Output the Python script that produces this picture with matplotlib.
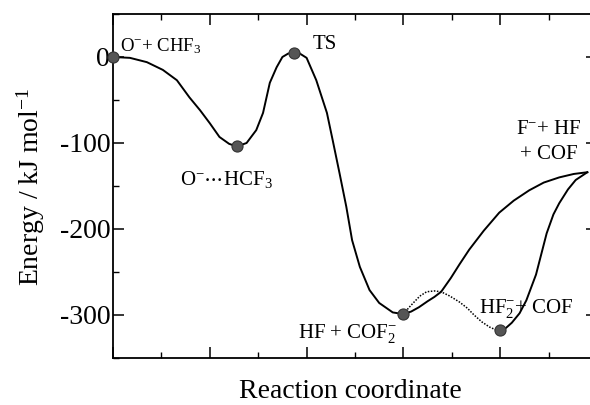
import matplotlib
matplotlib.use("Agg")
import matplotlib.pyplot as plt
from matplotlib.ticker import MultipleLocator

plt.rcParams['font.family'] = ['Liberation Serif', 'DejaVu Serif']
plt.rcParams['mathtext.default'] = 'regular'
plt.rcParams['axes.unicode_minus'] = False

# Stationary points (reaction coordinate, energy kJ/mol)
point_x = [0.0, 1.28, 1.87, 3.0, 4.0]
point_y = [0.0, -104.0, 5.0, -299.0, -318.0]

# Main solid path: reactants -> complex -> TS -> HF + COF2- -> F- + HF + COF
main_x = [0.0, 0.175, 0.35, 0.515, 0.66, 0.79, 0.90, 1.0, 1.10, 1.20, 1.28,
          1.38, 1.48, 1.55, 1.62, 1.69, 1.75, 1.81, 1.87, 1.93, 2.0, 2.10,
          2.21, 2.27, 2.34, 2.41, 2.47, 2.55, 2.65, 2.75, 2.89, 3.0,
          3.08, 3.16, 3.25, 3.32, 3.39, 3.49, 3.58, 3.68, 3.83, 3.99, 4.14,
          4.30, 4.45, 4.61, 4.76, 4.90]
main_y = [0.0, -1, -6, -15, -27, -47, -62, -77, -93, -101, -104,
          -100, -85, -65, -30, -12, 0, 4, 5, 4, -1, -27,
          -65, -97, -135, -174, -213, -244, -271, -286, -297, -299,
          -296, -291, -284, -279, -273, -257, -241, -224, -202, -181, -167,
          -155, -146, -140, -136, -134]

# Second solid path: HF2- + COF -> F- + HF + COF
second_x = [4.0, 4.06, 4.12, 4.20, 4.27, 4.37, 4.48, 4.55, 4.61, 4.70, 4.78, 4.90]
second_y = [-318, -315, -309, -298, -283, -253, -205, -183, -170, -154, -143, -134]

# Dotted path: HF + COF2- -> HF2- + COF
dotted_x = [3.0, 3.06, 3.11, 3.17, 3.24, 3.32, 3.39, 3.48, 3.58, 3.66, 3.73, 3.81, 3.89, 3.95, 4.0]
dotted_y = [-299, -291, -285, -278, -273, -272, -273, -278, -285, -292, -300, -308, -314, -317, -318]

labels = [r"O$^{-}$+ CHF$_{3}$", r"O$^{-}$$\cdots$HCF$_{3}$", "TS", "F$^{-}$+ HF",
          "+ COF", r"HF + COF$_{2}^{-}$", r"HF$_{2}^{-}$+ COF"]

fig = plt.figure(figsize=(5.9, 4.05), dpi=100)
ax = fig.add_axes([113/590, 1-358/405, 484/590, 344/405])

ax.plot(main_x, main_y, color='black', lw=1.4, zorder=2)
ax.plot(second_x, second_y, color='black', lw=1.4, zorder=2)
ax.plot(dotted_x, dotted_y, color='black', lw=1.1, ls=(0, (1, 1)), zorder=2)
ax.plot(point_x, point_y, 'o', ms=8, color='#555555', mec='#333333', mew=0.8,
        zorder=3, clip_on=False)

fs = 15
ax.text(0.07, 13, labels[0], fontsize=13.5, ha='left', va='center')
ax.text(1.175, -143, labels[1], fontsize=fs, ha='center', va='center')
ax.text(2.06, 14, labels[2], fontsize=fs, ha='left', va='center')
ax.text(4.835, -84, labels[3], fontsize=fs, ha='right', va='center')
ax.text(4.80, -113, labels[4], fontsize=fs, ha='right', va='center')
ax.text(1.907, -321, labels[5], fontsize=fs, ha='left', va='center')
ax.text(3.78, -292, labels[6], fontsize=fs, ha='left', va='center')

ax.set_xlim(0, 5)
ax.set_ylim(-350, 50)
ax.xaxis.set_major_locator(MultipleLocator(1))
ax.xaxis.set_minor_locator(MultipleLocator(0.5))
ax.yaxis.set_major_locator(MultipleLocator(100))
ax.yaxis.set_minor_locator(MultipleLocator(50))
ax.set_yticks([0, -100, -200, -300])
ax.set_yticklabels(['0', '-100', '-200', '-300'])
ax.tick_params(axis='both', which='both', direction='in', top=True, right=True)
ax.tick_params(axis='both', which='major', length=8, width=1.1)
ax.tick_params(axis='both', which='minor', length=4, width=1.0)
ax.tick_params(axis='x', which='both', labelbottom=False)
ax.tick_params(axis='y', labelsize=20, pad=2)
for s in ax.spines.values():
    s.set_linewidth(1.3)

fig.text(31/590, 1-187/405, r"Energy / kJ mol$^{-1}$", rotation=90,
         ha='center', va='center', fontsize=20)
fig.text(350/590, 1-392/405, "Reaction coordinate", ha='center', va='center',
         fontsize=20)

fig.savefig("out.png", dpi=100)
